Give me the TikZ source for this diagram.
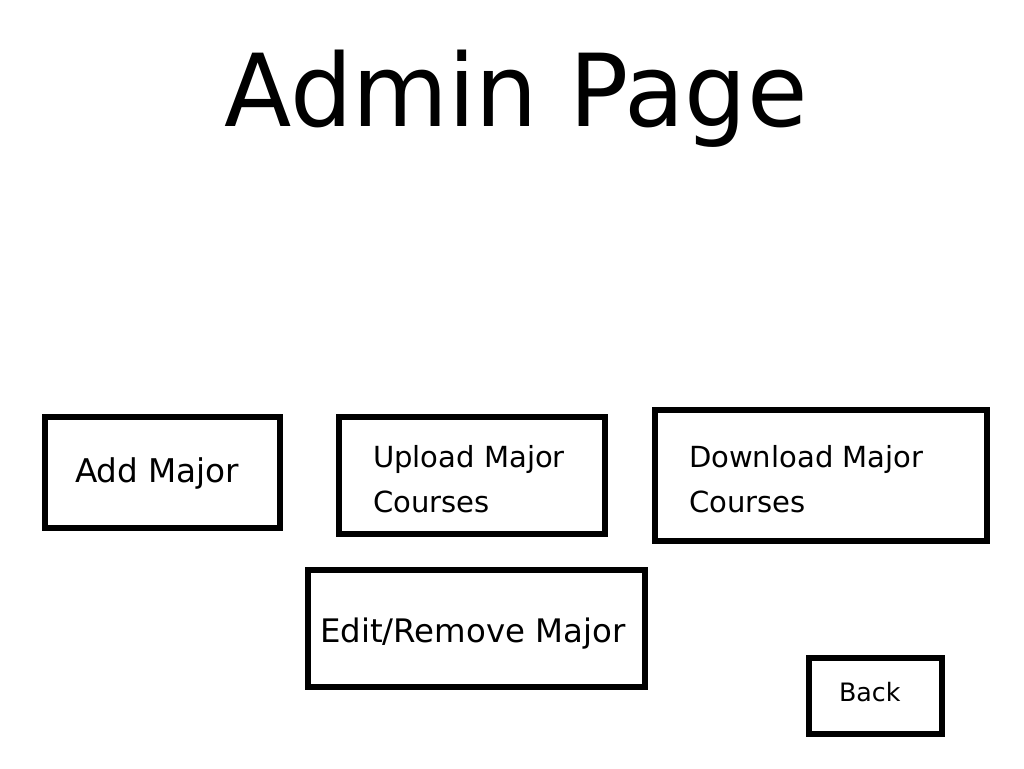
\documentclass[tikz,border=0pt]{standalone}
\usepackage{fontspec}
\setmainfont{DejaVu Sans}
\newfontfamily\titlefont[FakeStretch=0.977]{DejaVu Sans}
\begin{document}
\begin{tikzpicture}[x=0.75pt,y=-0.75pt,
  boxnode/.style={draw=black, line width=4.5pt, fill=none, inner sep=0pt, outer sep=0pt},
  lbl/.style={anchor=base west, inner sep=0pt, outer sep=0pt, align=left, text=black}]
\useasboundingbox (0,0) rectangle (1024,768);
\fill[white] (0,0) rectangle (1024,768);
% title
\node[anchor=base, inner sep=0pt] (title) at (516,126) {\titlefont\fontsize{75.5}{80}\selectfont Admin Page};
% boxes
\node[boxnode, minimum width=235*0.75pt, minimum height=111*0.75pt] (add) at (162.5,472.5) {};
\node[boxnode, minimum width=266*0.75pt, minimum height=117*0.75pt] (upload) at (472,475.5) {};
\node[boxnode, minimum width=332*0.75pt, minimum height=131*0.75pt] (download) at (821,475.5) {};
\node[boxnode, minimum width=337*0.75pt, minimum height=117*0.75pt] (edit) at (476.5,628.5) {};
\node[boxnode, minimum width=133*0.75pt, minimum height=76*0.75pt] (back) at (875.5,696) {};
% labels
\node[lbl, font=\fontsize{24.5}{30}\selectfont] (addt) at (75,482) {Add Major};
\node[lbl, font=\fontsize{21.8}{33.75}\selectfont] (uploadt) at (373,512) {Upload Major\\Courses};
\node[lbl, font=\fontsize{21.8}{33.75}\selectfont] (downloadt) at (689,512) {Download Major\\Courses};
\node[lbl, font=\fontsize{24.3}{28}\selectfont] (editt) at (320,642) {Edit/Remove Major};
\node[lbl, font=\fontsize{19}{24}\selectfont] (backt) at (839,701) {Back};
\end{tikzpicture}
\end{document}
